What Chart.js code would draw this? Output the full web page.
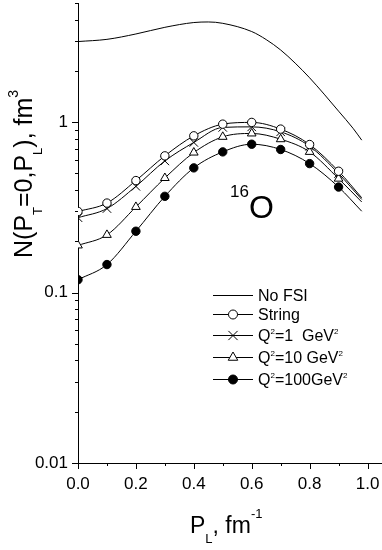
<!DOCTYPE html>
<html lang="en">
<head>
<meta charset="UTF-8">
<title>N(PT=0,PL) for 16O</title>
<style>
  html, body { margin: 0; padding: 0; background: #fff; }
  #wrap { width: 382px; height: 550px; position: relative; }
</style>
</head>
<body>
<div id="wrap"><canvas id="chart"></canvas></div>
<script src="https://cdn.jsdelivr.net/npm/chart.js@4.4.1/dist/chart.umd.min.js"></script>
<script>
// values
const noFsiX = [0, 0.1, 0.2, 0.3, 0.4, 0.45, 0.5, 0.6, 0.65, 0.7, 0.75, 0.8, 0.85, 0.9, 0.95, 0.98];
const noFsiY = [2.97, 3.06, 3.29, 3.6, 3.84, 3.87, 3.8, 3.4, 3.05, 2.65, 2.22, 1.82, 1.46, 1.16, 0.92, 0.784];

const pL = [0, 0.1, 0.2, 0.3, 0.4, 0.5, 0.6, 0.7, 0.8, 0.9, 0.98];
const stringY = [0.299, 0.335, 0.454, 0.634, 0.831, 0.973, 0.996, 0.910, 0.739, 0.515, 0.36];
const q1Y     = [0.275, 0.311, 0.420, 0.592, 0.760, 0.931, 0.938, 0.877, 0.722, 0.499, 0.352];
const q10Y    = [0.189, 0.218, 0.318, 0.470, 0.663, 0.820, 0.858, 0.794, 0.669, 0.466, 0.340];
const q100Y   = [0.119, 0.146, 0.229, 0.367, 0.539, 0.669, 0.742, 0.691, 0.571, 0.416, 0.300];

const xTicks = [0, 0.1, 0.2, 0.3, 0.4, 0.5, 0.6, 0.7, 0.8, 0.9, 1.0];
const xLabels = ['0.0', '', '0.2', '', '0.4', '', '0.6', '', '0.8', '', '1.0'];
const yTicks = [0.01, 0.02, 0.03, 0.04, 0.05, 0.06, 0.07, 0.08, 0.09,
                0.1, 0.2, 0.3, 0.4, 0.5, 0.6, 0.7, 0.8, 0.9,
                1, 2, 3, 4, 5];
const yMajor = [0.01, 0.1, 1];

const FONT = '"Liberation Sans", Arial, Helvetica, sans-serif';

function pts(xs, ys) {
  return xs.map((x, i) => ({ x: x, y: ys[i] }));
}

// markers only on the 0.1 grid, not on the curve end
function markerRadius(r) {
  return ctx => (ctx.dataIndex < 10 ? r : 0);
}

// draws text pieces with different sizes / baseline shifts
function drawRich(ctx, parts, x, y) {
  let cx = x;
  parts.forEach(p => {
    ctx.font = p.size + 'px ' + FONT;
    ctx.fillText(p.t, cx, y + (p.dy || 0));
    cx += ctx.measureText(p.t).width;
  });
}

const legendRows = [
  { ds: 0, y: 295, parts: [{ t: 'No FSI', size: 16 }] },
  { ds: 1, y: 314, parts: [{ t: 'String', size: 16 }] },
  { ds: 2, y: 335, parts: [{ t: 'Q', size: 16 }, { t: '2', size: 8, dy: -7 }, { t: '=1  GeV', size: 16 }, { t: '2', size: 8, dy: -7 }] },
  { ds: 3, y: 357, parts: [{ t: 'Q', size: 16 }, { t: '2', size: 8, dy: -7 }, { t: '=10 GeV', size: 16 }, { t: '2', size: 8, dy: -7 }] },
  { ds: 4, y: 379, parts: [{ t: 'Q', size: 16 }, { t: '2', size: 8, dy: -7 }, { t: '=100GeV', size: 16 }, { t: '2', size: 8, dy: -7 }] }
];

const decorPlugin = {
  id: 'decor',
  afterDraw(chart) {
    const ctx = chart.ctx;
    const area = chart.chartArea;
    const xs = chart.scales.x;
    const ys = chart.scales.y;
    ctx.save();
    ctx.strokeStyle = '#000';
    ctx.fillStyle = '#000';
    ctx.lineWidth = 1;

    // tick marks, outward
    ctx.beginPath();
    yTicks.forEach(v => {
      const py = Math.round(ys.getPixelForValue(v)) + 0.5;
      const len = yMajor.includes(v) ? 6 : 3;
      ctx.moveTo(area.left, py);
      ctx.lineTo(area.left - len, py);
    });
    xTicks.forEach((v, i) => {
      const px = Math.round(xs.getPixelForValue(v)) + 0.5;
      const len = i % 2 === 0 ? 6 : 3;
      ctx.moveTo(px, area.bottom);
      ctx.lineTo(px, area.bottom + len);
    });
    ctx.stroke();

    ctx.textAlign = 'left';
    ctx.textBaseline = 'alphabetic';

    // x title
    drawRich(ctx, [
      { t: 'P', size: 23 }, { t: 'L', size: 13, dy: 10 },
      { t: ', fm', size: 23 }, { t: '-1', size: 13, dy: -15 }
    ], 190, 533);

    // y title
    ctx.save();
    ctx.translate(32, 258);
    ctx.rotate(-Math.PI / 2);
    drawRich(ctx, [
      { t: 'N(P', size: 25 }, { t: 'T', size: 13, dy: 10 },
      { t: '=0,P', size: 25 }, { t: 'L', size: 13, dy: 10 },
      { t: '), fm', size: 25 }, { t: '3', size: 14, dy: -14 }
    ], 0, 0);
    ctx.restore();

    // nucleus label
    drawRich(ctx, [{ t: '16', size: 17, dy: -21 }, { t: 'O', size: 32 }], 230, 218);

    // legend
    legendRows.forEach(row => {
      const ds = chart.data.datasets[row.ds];
      ctx.lineWidth = 1;
      ctx.strokeStyle = '#000';
      ctx.beginPath();
      ctx.moveTo(213, row.y + 0.5);
      ctx.lineTo(253, row.y + 0.5);
      ctx.stroke();
      if (ds.pointStyle) {
        ctx.fillStyle = ds.pointBackgroundColor;
        ctx.strokeStyle = '#000';
        Chart.helpers.drawPoint(ctx, {
          pointStyle: ds.pointStyle,
          radius: ds.legendRadius,
          borderWidth: 1,
          rotation: 0
        }, 233, row.y + 0.5);
      }
      ctx.fillStyle = '#000';
      drawRich(ctx, row.parts, 258, row.y + 6);
    });
    ctx.restore();
  }
};

const lineBase = {
  borderColor: '#000',
  borderWidth: 1,
  pointBorderColor: '#000',
  pointBorderWidth: 1,
  cubicInterpolationMode: 'monotone',
  fill: false
};

new Chart(document.getElementById('chart'), {
  type: 'line',
  data: {
    datasets: [
      Object.assign({}, lineBase, {
        label: 'No FSI', data: pts(noFsiX, noFsiY), pointRadius: 0
      }),
      Object.assign({}, lineBase, {
        label: 'String', data: pts(pL, stringY), pointStyle: 'circle',
        pointBackgroundColor: '#fff', pointRadius: markerRadius(4.2), legendRadius: 4.5
      }),
      Object.assign({}, lineBase, {
        label: 'Q2=1 GeV2', data: pts(pL, q1Y), pointStyle: 'crossRot',
        pointBackgroundColor: '#fff', pointRadius: markerRadius(6), legendRadius: 6.5
      }),
      Object.assign({}, lineBase, {
        label: 'Q2=10 GeV2', data: pts(pL, q10Y), pointStyle: 'triangle',
        pointBackgroundColor: '#fff', pointRadius: markerRadius(5), legendRadius: 5.5
      }),
      Object.assign({}, lineBase, {
        label: 'Q2=100GeV2', data: pts(pL, q100Y), pointStyle: 'circle',
        pointBackgroundColor: '#000', pointRadius: markerRadius(4.2), legendRadius: 4.5
      })
    ]
  },
  options: {
    responsive: true,
    maintainAspectRatio: false,
    animation: false,
    layout: { autoPadding: false, padding: { top: 3, left: 0, right: 0, bottom: 0 } },
    plugins: {
      legend: { display: false },
      tooltip: { enabled: false },
      title: { display: false }
    },
    scales: {
      x: {
        type: 'linear',
        min: 0,
        max: 1.05,
        grid: { display: false, drawTicks: false },
        border: { display: true, color: '#000', width: 1 },
        afterBuildTicks: s => { s.ticks = xTicks.map(v => ({ value: v })); },
        afterFit: s => {
          s.height = 87;
          s.paddingLeft = 0; s.paddingRight = 0;
        },
        ticks: {
          autoSkip: false,
          maxRotation: 0,
          padding: 11,
          color: '#000',
          font: { family: FONT, size: 17 },
          callback: (v, i) => xLabels[i]
        }
      },
      y: {
        type: 'logarithmic',
        min: 0.01,
        max: 5,
        grid: { display: false, drawTicks: false },
        border: { display: true, color: '#000', width: 1 },
        afterBuildTicks: s => { s.ticks = yTicks.map(v => ({ value: v })); },
        afterFit: s => {
          s.width = 78;
          s.paddingTop = 0; s.paddingBottom = 0;
        },
        ticks: {
          autoSkip: false,
          padding: 10,
          color: '#000',
          font: { family: FONT, size: 17 },
          callback: v => (yMajor.includes(v) ? String(v) : '')
        }
      }
    }
  },
  plugins: [decorPlugin]
});
</script>
</body>
</html>
